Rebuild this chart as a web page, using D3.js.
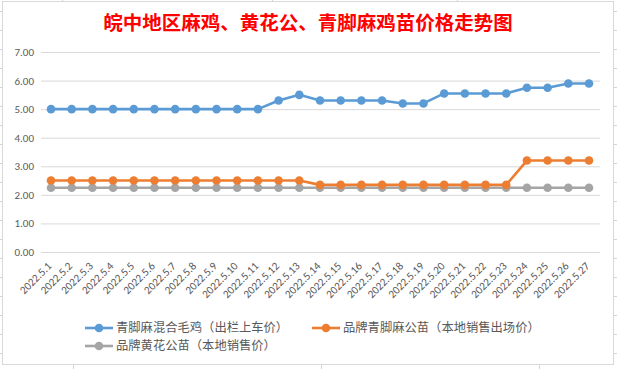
<!DOCTYPE html>
<html>
<head>
<meta charset="utf-8">
<script src="https://cdn.jsdelivr.net/npm/d3@7"></script>
<style>
  body { margin: 0; background: #fff; }
  svg { display: block; font-family: "Noto Sans CJK SC", "Microsoft YaHei", sans-serif; }
</style>
</head>
<body>
<div id="chart"></div>
<script>
// data
var dates = ["2022.5.1","2022.5.2","2022.5.3","2022.5.4","2022.5.5","2022.5.6","2022.5.7","2022.5.8","2022.5.9",
  "2022.5.10","2022.5.11","2022.5.12","2022.5.13","2022.5.14","2022.5.15","2022.5.16","2022.5.17","2022.5.18",
  "2022.5.19","2022.5.20","2022.5.21","2022.5.22","2022.5.23","2022.5.24","2022.5.25","2022.5.26","2022.5.27"];

var qingjiaoMaoji = [5, 5, 5, 5, 5, 5, 5, 5, 5, 5, 5, 5.3, 5.5, 5.3, 5.3, 5.3, 5.3, 5.2, 5.2, 5.55, 5.55, 5.55, 5.55, 5.75, 5.75, 5.9, 5.9];
var qingjiaoGongmiao = [2.5, 2.5, 2.5, 2.5, 2.5, 2.5, 2.5, 2.5, 2.5, 2.5, 2.5, 2.5, 2.5, 2.35, 2.35, 2.35, 2.35, 2.35, 2.35, 2.35, 2.35, 2.35, 2.35, 3.2, 3.2, 3.2, 3.2];
var huanghuaGongmiao = [2.25, 2.25, 2.25, 2.25, 2.25, 2.25, 2.25, 2.25, 2.25, 2.25, 2.25, 2.25, 2.25, 2.25, 2.25, 2.25, 2.25, 2.25, 2.25, 2.25, 2.25, 2.25, 2.25, 2.25, 2.25, 2.25, 2.25];

var seriesNames = ["青脚麻混合毛鸡（出栏上车价）", "品牌青脚麻公苗（本地销售出场价）", "品牌黄花公苗（本地销售价）"];
var yTicks = [0, 1, 2, 3, 4, 5, 6, 7];
var title = "皖中地区麻鸡、黄花公、青脚麻鸡苗价格走势图";

var W = 617, H = 369;
var colors = ["#5b9bd5", "#ed7d31", "#a5a5a5"];
var series = [qingjiaoMaoji, qingjiaoGongmiao, huanghuaGongmiao];

var svg = d3.select("#chart").append("svg").attr("width", W).attr("height", H);

// faint spreadsheet cell marks behind the chart
var sheet = svg.append("g").attr("stroke", "#d4d4dc").attr("stroke-width", 1);
d3.range(11, H, 19).forEach(function (y) {
  sheet.append("line").attr("x1", 0).attr("x2", 2).attr("y1", y + 0.5).attr("y2", y + 0.5);
  sheet.append("line").attr("x1", 614).attr("x2", 617).attr("y1", y + 0.5).attr("y2", y + 0.5);
});
[62, 272, 457].forEach(function (x) {
  sheet.append("line").attr("x1", x + 0.5).attr("x2", x + 0.5).attr("y1", 0).attr("y2", 1);
});
[73, 321, 539].forEach(function (x) {
  sheet.append("line").attr("x1", x + 0.5).attr("x2", x + 0.5).attr("y1", 365).attr("y2", H);
});

// chart area
svg.append("rect")
  .attr("x", 2.5).attr("y", 1.5).attr("width", 611).attr("height", 363)
  .attr("fill", "#fff").attr("stroke", "#d9d9d9");

svg.append("text")
  .attr("x", 308).attr("y", 30)
  .attr("text-anchor", "middle")
  .attr("fill", "#ff0000")
  .style("font-size", "19.5px").style("font-weight", "bold")
  .text(title);

var x = d3.scalePoint().domain(dates).range([51, 589]);
var y = d3.scaleLinear().domain([0, 7]).range([252, 52]);

// gridlines + y labels
var yAxis = d3.axisLeft(y).tickValues(yTicks).tickSize(-559).tickFormat(d3.format(".2f"));
var gy = svg.append("g").attr("transform", "translate(41,0)").call(yAxis);
gy.select(".domain").remove();
gy.selectAll(".tick line").attr("stroke", "#d9d9d9");
gy.selectAll(".tick text").attr("x", -7).attr("fill", "#595959")
  .style("font-size", "11px").style("font-family", "Calibri, 'Liberation Sans', sans-serif");

// x labels, rotated
var xAxis = d3.axisBottom(x).tickSize(0);
var gx = svg.append("g").attr("transform", "translate(0,252)").call(xAxis);
gx.select(".domain").remove();
gx.selectAll(".tick text")
  .attr("fill", "#595959")
  .style("font-size", "11.2px").style("font-family", "Calibri, 'Liberation Sans', sans-serif")
  .attr("text-anchor", "end")
  .attr("transform", "translate(-2,12) rotate(-45)")
  .attr("x", 0).attr("y", 0).attr("dy", "0.35em");

var line = d3.line().x(function (d, i) { return x(dates[i]); }).y(function (d) { return y(d); });

// draw gray first so orange and blue sit on top
[2, 1, 0].forEach(function (k) {
  var g = svg.append("g");
  g.append("path").datum(series[k])
    .attr("d", line).attr("fill", "none")
    .attr("stroke", colors[k]).attr("stroke-width", 2.6).attr("stroke-linejoin", "round");
  g.selectAll("circle").data(series[k]).enter().append("circle")
    .attr("cx", function (d, i) { return x(dates[i]); })
    .attr("cy", function (d) { return y(d); })
    .attr("r", 4.3).attr("fill", colors[k]);
});

// legend
var legendPos = [[85, 328], [312, 328], [85, 346]];
seriesNames.forEach(function (name, k) {
  var p = legendPos[k];
  var lg = svg.append("g").attr("transform", "translate(" + p[0] + "," + p[1] + ")");
  lg.append("line").attr("x1", 0).attr("x2", 28).attr("stroke", colors[k]).attr("stroke-width", 2.6);
  lg.append("circle").attr("cx", 14).attr("r", 4.3).attr("fill", colors[k]);
  lg.append("text").attr("x", 31).attr("dy", "0.35em")
    .attr("fill", "#595959").style("font-size", "12.3px").text(name);
});
</script>
</body>
</html>
